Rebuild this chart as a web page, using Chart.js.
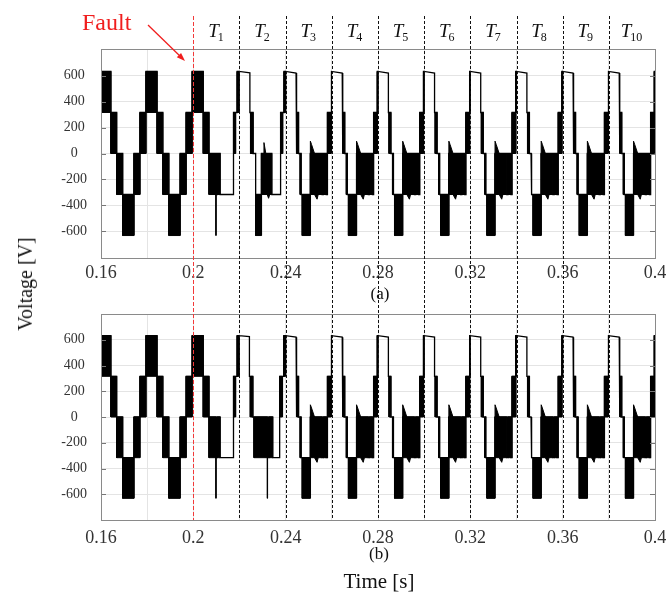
<!DOCTYPE html>
<html lang="en">
<head>
<meta charset="UTF-8">
<title>Output voltage before and after the cell fault</title>
<script src="https://cdn.jsdelivr.net/npm/chart.js"></script>
<style>
    body { margin: 0; background: #fff; }
    #wrap { position: relative; width: 666px; height: 594px; font-family: "Liberation Serif", "Times New Roman", serif; color: #111; }
    #chartA { position: absolute; left: 0; top: 0; }
    #chartB { position: absolute; left: 0; top: 290px; }
    .lbl { position: absolute; white-space: nowrap; line-height: 1; transform: translate(-50%, -50%); }
    #ylabel { left: 25px; top: 284px; font-size: 20px; transform: translate(-50%, -50%) rotate(-90deg); }
</style>
</head>
<body>
<div id="wrap">
    <canvas id="chartA" width="666" height="290"></canvas>
    <canvas id="chartB" width="666" height="304"></canvas>
    <div class="lbl" id="ylabel">Voltage [V]</div>
    <div class="lbl" style="left:380px; top:293px; font-size:17px;">(a)</div>
    <div class="lbl" style="left:379px; top:553px; font-size:17px;">(b)</div>
    <div class="lbl" style="left:379px; top:581px; font-size:21px;">Time [s]</div>
</div>

<script>
    // axes
    const xMin = 0.16, xMax = 0.4;
    const xGridTicks = [0.16, 0.18, 0.2, 0.22, 0.24, 0.26, 0.28, 0.3, 0.32, 0.34, 0.36, 0.38, 0.4];
    const xLabelTicks = [0.16, 0.2, 0.24, 0.28, 0.32, 0.36, 0.4];
    const yTicks = [-600, -400, -200, 0, 200, 400, 600];

    // fault instant and the T1..T10 intervals after it
    const faultTime = 0.2;
    const intervalEdges = [0.2, 0.22, 0.24, 0.26, 0.28, 0.3, 0.32, 0.34, 0.36, 0.38, 0.4];

    // waveform pieces: [t0, t1, a, b]
    // a < b  -> switching band between levels a and b (drawn solid)
    // a >= b -> plain trace going from a to b
    const preFaultCycle = [
        [0, 0.0048, 316, 632],
        [0.0048, 0.0073, 0, 316],
        [0.0073, 0.0099, -316, 0],
        [0.0099, 0.0148, -632, -316],
        [0.0148, 0.0174, -316, 0],
        [0.0174, 0.0200, 0, 316]
    ];
    const preFaultStarts = [0.1595, 0.1795];

    // first cycle after the fault (same in both cases)
    const faultCycle = [
        [0.1995, 0.2043, 316, 632],
        [0.2043, 0.2068, 0, 316],
        [0.2068, 0.2098, -316, 0],
        [0.2098, 0.2098, -632, 0],
        [0.2098, 0.2103, -316, -316],
        [0.2103, 0.2116, -316, 0],
        [0.2116, 0.2174, -316, -316],
        [0.2174, 0.2183, 0, 316],
        [0.2183, 0.2190, 316, 316],
        [0.2190, 0.2199, 316, 632]
    ];

    // second cycle, case (a)
    const secondCycleA = [
        [0.2199, 0.2245, 632, 622],
        [0.2245, 0.2248, 316, 316],
        [0.2248, 0.2259, 0, 316],
        [0.2259, 0.2270, 0, 0],
        [0.2270, 0.2295, -632, -316],
        [0.2295, 0.2340, -316, 0],
        [0.2340, 0.2378, -316, -316],
        [0.2378, 0.2387, 0, 316],
        [0.2387, 0.2393, 316, 316],
        [0.2393, 0.2400, 316, 632]
    ];
    const secondRippleA = [
        [[0.2302, 0], [0.2306, 84], [0.2314, 0]],
        [[0.2320, -316], [0.2326, -345], [0.2331, -316]]
    ];

    // second cycle, case (b)
    const secondCycleB = [
        [0.2199, 0.2243, 632, 624],
        [0.2243, 0.2247, 316, 316],
        [0.2247, 0.2258, 0, 316],
        [0.2258, 0.2263, 0, 0],
        [0.2263, 0.2321, -316, 0],
        [0.2321, 0.2321, -632, -316],
        [0.2321, 0.2327, -316, -316],
        [0.2327, 0.2344, -316, 0],
        [0.2344, 0.2374, -316, -316],
        [0.2374, 0.2386, 0, 316],
        [0.2386, 0.2392, 316, 316],
        [0.2392, 0.2400, 316, 632]
    ];
    const secondRippleB = [];

    // settled post-fault cycle, offsets from its start
    const steadyCycle = [
        [0, 0.0045, 632, 620],
        [0.0045, 0.0048, 316, 316],
        [0.0048, 0.0056, 0, 316],
        [0.0056, 0.0063, 0, 0],
        [0.0063, 0.0067, -316, 0],
        [0.0067, 0.0072, -316, -316],
        [0.0072, 0.0107, -632, -316],
        [0.0107, 0.0158, -316, 0],
        [0.0158, 0.0163, -316, -316],
        [0.0163, 0.0176, -316, 0],
        [0.0176, 0.0181, -316, -316],
        [0.0181, 0.0197, 0, 316],
        [0.0197, 0.0200, 316, 632]
    ];
    const steadyLightBands = [[0.0176, 0.0181, -316, 0]];
    const steadyRipple = [
        [[0.0107, 0], [0.0107, 95], [0.0112, 70], [0.0125, 0]],
        [[0.0125, -316], [0.0136, -352], [0.0141, -316]]
    ];
    const steadyStarts = [0.24, 0.26, 0.28, 0.30, 0.32, 0.34, 0.36, 0.38];

    Chart.defaults.font.family = '"Liberation Serif", "Times New Roman", serif';

    const shiftSegs = (list, t) => list.map(s => [s[0] + t, s[1] + t, s[2], s[3]]);
    const shiftPoly = (poly, t) => poly.map(p => [p[0] + t, p[1]]);

    function panelData(secondCycle, secondRipple) {
        const segs = [], ripples = [...secondRipple], light = [];
        preFaultStarts.forEach(t => segs.push(...shiftSegs(preFaultCycle, t)));
        segs.push(...faultCycle, ...secondCycle);
        steadyStarts.forEach(t => {
            segs.push(...shiftSegs(steadyCycle, t));
            steadyRipple.forEach(p => ripples.push(shiftPoly(p, t)));
            light.push(...shiftSegs(steadyLightBands, t));
        });
        return { segs, ripples, light };
    }

    function shapeSet(points, color) {
        return {
            data: points,
            borderColor: color,
            backgroundColor: color,
            borderWidth: 1,
            pointRadius: 0,
            fill: 'shape',
            tension: 0
        };
    }

    function buildDatasets(panel) {
        const outline = [];
        const sets = [];
        panel.segs.forEach(([t0, t1, a, b]) => {
            if (a < b) {
                outline.push({x: t0, y: a}, {x: t0, y: b}, {x: t1, y: b}, {x: t1, y: a});
                sets.push(shapeSet([{x: t0, y: a}, {x: t1, y: a}, {x: t1, y: b}, {x: t0, y: b}, {x: t0, y: a}], '#000'));
            } else {
                outline.push({x: t0, y: a}, {x: t1, y: b});
            }
        });
        panel.light.forEach(([t0, t1, a, b]) => {
            sets.push(shapeSet([{x: t0, y: a}, {x: t1, y: a}, {x: t1, y: b}, {x: t0, y: b}, {x: t0, y: a}], '#8c8c8c'));
        });
        panel.ripples.forEach(poly => {
            const pts = poly.map(([x, y]) => ({x, y}));
            pts.push({...pts[0]});
            sets.push(shapeSet(pts, '#000'));
        });
        sets.unshift({
            data: outline,
            borderColor: '#000',
            borderWidth: 1.3,
            pointRadius: 0,
            fill: false,
            tension: 0
        });
        return sets;
    }

    // frame, inner ticks, interval markers and annotations
    function markerPlugin(markTop, markToCanvasBottom, withLabels) {
        return {
            id: 'markers',
            afterDatasetsDraw(chart) {
                const {ctx, chartArea: a, scales: {x, y}} = chart;
                ctx.save();

                ctx.strokeStyle = '#777';
                ctx.lineWidth = 1;
                ctx.beginPath();
                yTicks.forEach(v => {
                    const py = Math.round(y.getPixelForValue(v)) + 0.5;
                    ctx.moveTo(a.left, py); ctx.lineTo(a.left + 5, py);
                    ctx.moveTo(a.right, py); ctx.lineTo(a.right - 5, py);
                });
                ctx.stroke();

                ctx.strokeStyle = '#8a8a8a';
                ctx.strokeRect(Math.round(a.left) + 0.5, Math.round(a.top) + 0.5,
                    Math.round(a.right - a.left), Math.round(a.bottom - a.top));

                const yEnd = markToCanvasBottom ? chart.height : a.bottom;
                intervalEdges.forEach(t => {
                    if (t <= faultTime || t >= xMax) return;
                    const px = Math.round(x.getPixelForValue(t)) + 0.5;
                    ctx.strokeStyle = '#111';
                    ctx.setLineDash([3, 2]);
                    ctx.beginPath(); ctx.moveTo(px, markTop); ctx.lineTo(px, yEnd); ctx.stroke();
                });
                const fx = Math.round(x.getPixelForValue(faultTime)) + 0.5;
                ctx.strokeStyle = '#f23a3a';
                ctx.setLineDash([4, 2]);
                ctx.beginPath(); ctx.moveTo(fx, markTop); ctx.lineTo(fx, yEnd); ctx.stroke();
                ctx.setLineDash([]);

                if (withLabels) {
                    ctx.fillStyle = '#111';
                    ctx.textBaseline = 'alphabetic';
                    for (let i = 0; i < intervalEdges.length - 1; i++) {
                        const cx = x.getPixelForValue((intervalEdges[i] + intervalEdges[i + 1]) / 2);
                        const sub = String(i + 1);
                        ctx.font = 'italic 19px "Liberation Serif", serif';
                        const wT = ctx.measureText('T').width;
                        ctx.font = '12px "Liberation Serif", serif';
                        const wS = ctx.measureText(sub).width;
                        const left = cx - (wT + wS) / 2;
                        ctx.font = 'italic 19px "Liberation Serif", serif';
                        ctx.fillText('T', left, 37);
                        ctx.font = '12px "Liberation Serif", serif';
                        ctx.fillText(sub, left + wT - 1, 41);
                    }

                    ctx.fillStyle = '#f01e1e';
                    ctx.font = '24px "Liberation Serif", serif';
                    ctx.fillText('Fault', 82, 30);

                    // arrow towards the fault line
                    const x0 = 148, y0 = 25, x1 = 185, y1 = 61;
                    const ang = Math.atan2(y1 - y0, x1 - x0);
                    ctx.strokeStyle = '#f01e1e';
                    ctx.lineWidth = 1.3;
                    ctx.beginPath(); ctx.moveTo(x0, y0);
                    ctx.lineTo(x1 - 6 * Math.cos(ang), y1 - 6 * Math.sin(ang)); ctx.stroke();
                    ctx.beginPath();
                    ctx.moveTo(x1, y1);
                    ctx.lineTo(x1 - 9 * Math.cos(ang - 0.35), y1 - 9 * Math.sin(ang - 0.35));
                    ctx.lineTo(x1 - 9 * Math.cos(ang + 0.35), y1 - 9 * Math.sin(ang + 0.35));
                    ctx.closePath(); ctx.fill();
                }
                ctx.restore();
            }
        };
    }

    function makeChart(id, panel, yRange, layoutTop, xAxisHeight, labelPad, plugin) {
        return new Chart(document.getElementById(id), {
            type: 'line',
            data: { datasets: buildDatasets(panel) },
            options: {
                responsive: false,
                animation: false,
                events: [],
                layout: { padding: { top: layoutTop, right: 11, left: 0, bottom: 0 } },
                plugins: { legend: { display: false }, tooltip: { enabled: false } },
                scales: {
                    x: {
                        type: 'linear',
                        min: xMin,
                        max: xMax,
                        afterBuildTicks: s => { s.ticks = xGridTicks.map(v => ({ value: v })); },
                        afterFit: s => { s.height = xAxisHeight; s.paddingLeft = 0; s.paddingRight = 0; },
                        grid: { color: '#e4e4e4', drawTicks: false },
                        border: { display: false },
                        ticks: {
                            autoSkip: false,
                            maxRotation: 0,
                            padding: labelPad,
                            color: '#333',
                            font: { size: 18 },
                            callback: v => xLabelTicks.some(t => Math.abs(t - v) < 1e-9) ? String(+v.toFixed(2)) : ''
                        }
                    },
                    y: {
                        min: -yRange,
                        max: yRange,
                        afterBuildTicks: s => { s.ticks = yTicks.map(v => ({ value: v })); },
                        afterFit: s => { s.width = 101; s.paddingTop = 0; s.paddingBottom = 0; },
                        grid: { color: '#e4e4e4', drawTicks: false },
                        border: { display: false },
                        ticks: {
                            padding: 14,
                            crossAlign: 'center',
                            color: '#333',
                            font: { size: 14 },
                            callback: v => String(v)
                        }
                    }
                }
            },
            plugins: [plugin]
        });
    }

    makeChart('chartA', panelData(secondCycleA, secondRippleA), 805, 49, 32, 4, markerPlugin(16, true, true));
    makeChart('chartB', panelData(secondCycleB, secondRippleB), 800, 24, 74, 7, markerPlugin(0, false, false));
</script>
</body>
</html>
